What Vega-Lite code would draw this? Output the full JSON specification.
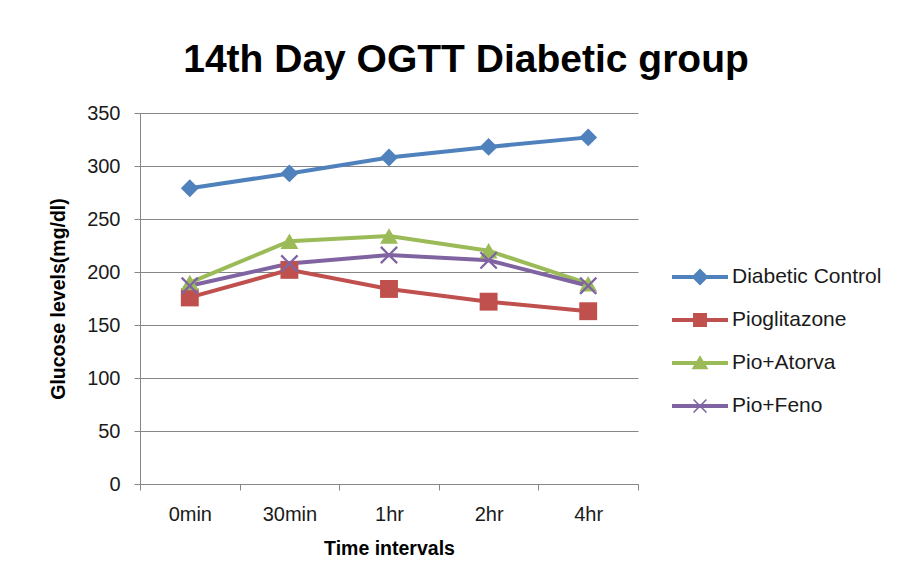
{
  "$schema": "https://vega.github.io/schema/vega-lite/v6.json",
  "width": 498,
  "height": 371,
  "autosize": {"type": "none"},
  "padding": {"left": 140, "top": 113, "right": 273, "bottom": 101},
  "background": "white",
  "title": {
    "text": "14th Day OGTT Diabetic group",
    "font": "Liberation Sans",
    "fontSize": 39,
    "fontWeight": "bold",
    "color": "#000000",
    "anchor": "middle",
    "frame": "group",
    "dx": 77,
    "dy": 48,
    "baseline": "alphabetic",
    "offset": 40
  },
  "data": {
    "values": [
      {"time": "0min", "series": "Diabetic Control", "glucose": 279},
      {"time": "30min", "series": "Diabetic Control", "glucose": 293},
      {"time": "1hr", "series": "Diabetic Control", "glucose": 308},
      {"time": "2hr", "series": "Diabetic Control", "glucose": 318},
      {"time": "4hr", "series": "Diabetic Control", "glucose": 327},
      {"time": "0min", "series": "Pioglitazone", "glucose": 176},
      {"time": "30min", "series": "Pioglitazone", "glucose": 202},
      {"time": "1hr", "series": "Pioglitazone", "glucose": 184},
      {"time": "2hr", "series": "Pioglitazone", "glucose": 172},
      {"time": "4hr", "series": "Pioglitazone", "glucose": 163},
      {"time": "0min", "series": "Pio+Atorva", "glucose": 190},
      {"time": "30min", "series": "Pio+Atorva", "glucose": 229},
      {"time": "1hr", "series": "Pio+Atorva", "glucose": 234},
      {"time": "2hr", "series": "Pio+Atorva", "glucose": 220},
      {"time": "4hr", "series": "Pio+Atorva", "glucose": 189},
      {"time": "0min", "series": "Pio+Feno", "glucose": 187},
      {"time": "30min", "series": "Pio+Feno", "glucose": 208},
      {"time": "1hr", "series": "Pio+Feno", "glucose": 216},
      {"time": "2hr", "series": "Pio+Feno", "glucose": 211},
      {"time": "4hr", "series": "Pio+Feno", "glucose": 187}
    ]
  },
  "encoding": {
    "x": {
      "field": "time",
      "type": "ordinal",
      "sort": ["0min", "30min", "1hr", "2hr", "4hr"],
      "bandPosition": 0.5,
      "scale": {"type": "band", "paddingInner": 0, "paddingOuter": 0},
      "axis": {
        "title": "Time intervals",
        "tickBand": "extent",
        "labelAngle": 0,
        "labelFontSize": 20,
        "labelPadding": 14,
        "titleFontSize": 19.5,
        "titlePadding": 15,
        "grid": false
      }
    },
    "y": {
      "field": "glucose",
      "type": "quantitative",
      "scale": {"domain": [0, 350], "nice": false},
      "axis": {
        "title": "Glucose levels(mg/dl)",
        "values": [0, 50, 100, 150, 200, 250, 300, 350],
        "labelFontSize": 20,
        "labelPadding": 14,
        "titleFontSize": 19.5,
        "titlePadding": 18,
        "grid": true
      }
    },
    "color": {
      "field": "series",
      "type": "nominal",
      "scale": {
        "domain": ["Diabetic Control", "Pioglitazone", "Pio+Atorva", "Pio+Feno"],
        "range": ["#4F81BD", "#C0504D", "#9BBB59", "#8064A2"]
      },
      "legend": null
    }
  },
  "layer": [
    {"mark": {"type": "line", "strokeWidth": 4}},
    {
      "mark": {"type": "point", "filled": true, "opacity": 1, "size": 320, "strokeWidth": 0},
      "encoding": {
        "shape": {
          "field": "series",
          "type": "nominal",
          "scale": {
            "domain": ["Diabetic Control", "Pioglitazone", "Pio+Atorva", "Pio+Feno"],
            "range": ["diamond", "square", "triangle-up", "M-1,-0.82L-0.82,-1L0,-0.18L0.82,-1L1,-0.82L0.18,0L1,0.82L0.82,1L0,0.18L-0.82,1L-1,0.82L-0.18,0Z"]
          },
          "legend": null
        }
      }
    },
    {
      "transform": [{"filter": "false"}],
      "mark": {"type": "point", "filled": true, "opacity": 1, "strokeWidth": 0},
      "encoding": {
        "color": {
          "field": "series",
          "type": "nominal",
          "scale": {
            "domain": ["Diabetic Control", "Pioglitazone", "Pio+Atorva", "Pio+Feno"],
            "range": ["#4F81BD", "#C0504D", "#9BBB59", "#8064A2"]
          },
          "legend": {
            "title": null,
            "orient": "none",
            "legendX": 532,
            "legendY": 136,
            "symbolSize": 3136,
            "symbolStrokeWidth": 0,
            "labelFont": "Liberation Sans",
            "labelFontSize": 21,
            "labelColor": "#1a1a1a",
            "labelOffset": 4,
            "rowPadding": 5
          }
        },
        "shape": {
          "field": "series",
          "type": "nominal",
          "scale": {
            "domain": ["Diabetic Control", "Pioglitazone", "Pio+Atorva", "Pio+Feno"],
            "range": [
              "M-1,-0.07H1V0.07H-1Z M0,-0.3L0.3,0L0,0.3L-0.3,0Z",
              "M-1,-0.07H1V0.07H-1Z M-0.25,-0.25H0.25V0.25H-0.25Z",
              "M-1,-0.07H1V0.07H-1Z M0,-0.28L0.3,0.22H-0.3Z",
              "M-1,-0.07H1V0.07H-1Z M-0.25,-0.21L-0.21,-0.25L0,-0.04L0.21,-0.25L0.25,-0.21L0.04,0L0.25,0.21L0.21,0.25L0,0.04L-0.21,0.25L-0.25,0.21L-0.04,0Z"
            ]
          },
          "legend": {
            "title": null,
            "orient": "none",
            "legendX": 532,
            "legendY": 136,
            "symbolSize": 3136,
            "symbolStrokeWidth": 0,
            "labelFont": "Liberation Sans",
            "labelFontSize": 21,
            "labelColor": "#1a1a1a",
            "labelOffset": 4,
            "rowPadding": 5
          }
        }
      }
    }
  ],
  "resolve": {"scale": {"shape": "independent", "color": "independent"}},
  "config": {
    "font": "Liberation Sans",
    "view": {"stroke": null},
    "axis": {
      "labelFont": "Liberation Sans",
      "labelColor": "#1a1a1a",
      "titleFont": "Liberation Sans",
      "titleFontWeight": "bold",
      "titleColor": "#000000",
      "domainColor": "#868686",
      "tickColor": "#868686",
      "gridColor": "#868686",
      "tickSize": 6,
      "domainWidth": 1,
      "gridWidth": 1
    }
  }
}
